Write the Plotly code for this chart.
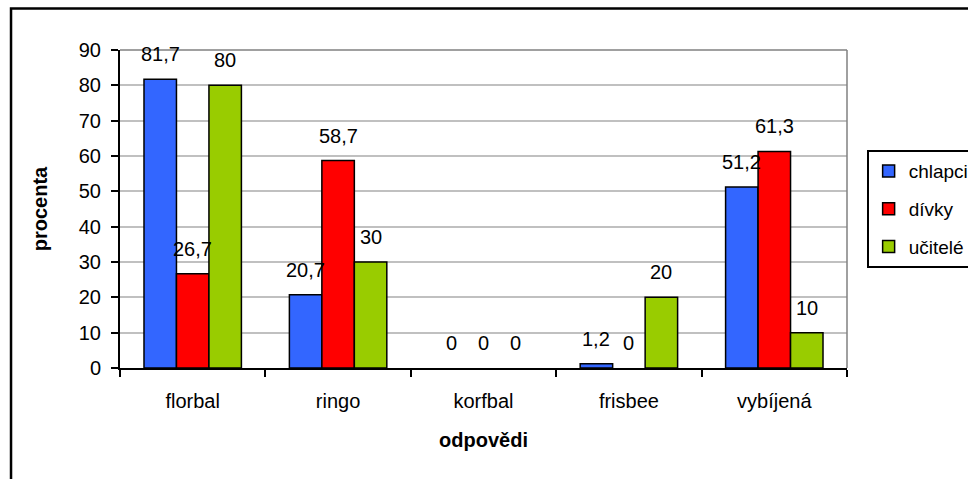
import plotly.graph_objects as go

# Survey answers (percent) per sport and respondent group
categories = ["florbal", "ringo", "korfbal", "frisbee", "vybíjená"]
series_names = ["chlapci", "dívky", "učitelé"]
chlapci = [81.7, 20.7, 0, 1.2, 51.2]
divky = [26.7, 58.7, 0, 0, 61.3]
ucitele = [80, 30, 0, 20, 10]
y_ticks = [0, 10, 20, 30, 40, 50, 60, 70, 80, 90]

series_values = [chlapci, divky, ucitele]
colors = ["#3366FF", "#FF0000", "#99CC00"]

FONT = "Liberation Sans, Arial, sans-serif"
FS = 20
BARGAP = 0.33


def fmt(v):
    return f"{v:g}".replace(".", ",")


fig = go.Figure()
for name, vals, col in zip(series_names, series_values, colors):
    fig.add_trace(go.Bar(
        name=name, x=categories, y=vals,
        marker=dict(color=col,
                    line=dict(color="black", width=[0 if v == 0 else 1.5 for v in vals])),
        legendgroup=name,
    ))

# value labels above each bar, offset to the bar's slot in its group
n = len(series_values)
w = (1 - BARGAP) / n
for k, vals in enumerate(series_values):
    for i, v in enumerate(vals):
        fig.add_annotation(
            x=i + (k - (n - 1) / 2) * w, y=v, text=fmt(v),
            showarrow=False, yanchor="middle", yshift=25,
            font=dict(family=FONT, size=FS, color="black"),
        )

# gray border of the plot area (top and right)
fig.add_shape(type="line", xref="paper", yref="paper", x0=0, x1=1, y0=1, y1=1,
              line=dict(color="#808080", width=1.5))
fig.add_shape(type="line", xref="paper", yref="paper", x0=1, x1=1, y0=0, y1=1,
              line=dict(color="#808080", width=1.5))
# outer chart frame
fig.add_shape(type="rect", xref="paper", yref="paper",
              x0=-0.1499, x1=1.2, y0=-0.4, y1=1.1305,
              line=dict(color="black", width=2.5))

fig.update_layout(
    width=968, height=479,
    margin=dict(l=120, r=121, t=50, b=111, autoexpand=False),
    paper_bgcolor="white", plot_bgcolor="white",
    barmode="group", bargap=BARGAP, bargroupgap=0,
    font=dict(family=FONT, size=FS, color="black"),
    showlegend=True,
    legend=dict(
        x=1.027, y=0.685, xanchor="left", yanchor="top",
        bordercolor="black", borderwidth=2, bgcolor="white",
        font=dict(family=FONT, size=19, color="black"),
        tracegroupgap=10, traceorder="grouped", itemwidth=30,
    ),
    xaxis=dict(
        type="category", showline=True, linecolor="black", linewidth=2,
        ticks="outside", tickson="boundaries", ticklen=7, tickcolor="black", tickwidth=2,
        showgrid=False, tickfont=dict(family=FONT, size=FS), ticklabelstandoff=14,
        title=dict(text="<b>odpovědi</b>", font=dict(family=FONT, size=FS), standoff=22),
    ),
    yaxis=dict(
        range=[0, 90], tickvals=y_ticks, showline=True, linecolor="black", linewidth=2,
        ticks="outside", ticklen=7, tickcolor="black", tickwidth=2,
        gridcolor="#C0C0C0", gridwidth=1.5, zeroline=False,
        tickfont=dict(family=FONT, size=FS), ticklabelstandoff=6,
        title=dict(text="<b>procenta</b>", font=dict(family=FONT, size=FS), standoff=26),
    ),
)

fig.write_html("out.html")
